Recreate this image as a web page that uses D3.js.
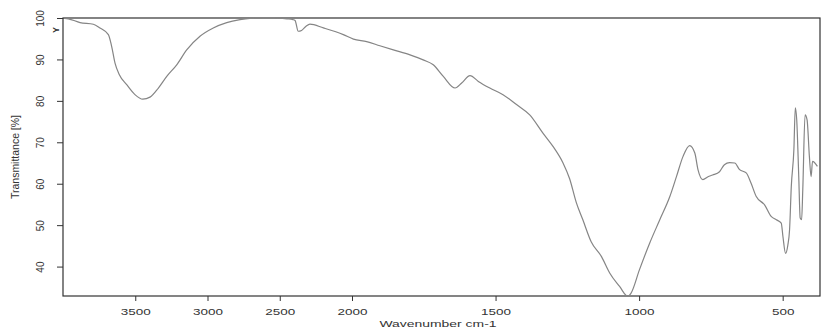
<!DOCTYPE html>
<html>
<head>
<meta charset="utf-8">
<script src="https://cdn.jsdelivr.net/npm/d3@7"></script>
<style>
  body { margin: 0; background: #fff; }
  text { font-family: "Liberation Sans", Arial, sans-serif; fill: #333; }
</style>
</head>
<body>
<div id="chart"></div>
<script>
// wavenumber (cm-1) and transmittance (%)
var wavenumber = [3990,3963,3882,3790,3744,3686,3663,3640,3610,3559,3502,3448,3398,3340,3282,3213,3144,3052,2960,2867,2775,2706,2620,2533,2450,2408,2394,2372,2349,2318,2291,2198,2060,1995,1949,1903,1856,1798,1752,1717,1682,1641,1618,1589,1560,1520,1474,1427,1381,1335,1300,1265,1242,1219,1196,1167,1131,1102,1068,1039,1028,999,963,928,893,870,847,824,806,795,778,760,744,720,703,685,667,650,627,610,592,563,540,522,505,499,490,482,476,470,461,456,451,444,439,434,430,422,415,407,401,396,379];
var transmittance = [99.9,99.8,98.9,98.5,97.6,96.0,93.1,89.1,86.3,83.9,81.5,80.4,80.9,83.1,85.9,88.7,92.3,95.6,97.6,98.9,99.6,99.9,100,100,99.8,99.6,99.4,96.8,97.0,98.0,98.5,97.6,96.0,94.9,94.3,93.3,92.3,91.1,89.9,88.7,85.9,83.1,84.3,86.1,84.7,83.1,81.5,79.1,76.6,72.2,69.0,65.0,61.2,55.5,51.3,46.0,42.4,38.4,35.2,32.8,33.6,39.2,45.7,51.3,56.9,61.7,66.6,69.2,67.4,63.4,61.0,61.7,62.1,62.9,64.6,65.1,65.0,63.4,62.6,60.1,56.9,54.9,52.1,51.3,50.5,47.2,43.2,45.2,48.9,59.3,68.2,78.3,75.4,61.7,51.7,51.3,58.5,76.6,75.4,66.6,61.7,65.4,64.2];
var xTicks = [3500,3000,2500,2000,1500,1000,500];
var yTicks = [40,50,60,70,80,90,100];

var width = 826, height = 329;
var plotLeft = 63, plotRight = 820, plotTop = 18, plotBottom = 296;

var svg = d3.select("#chart").append("svg")
    .attr("width", width)
    .attr("height", height);

// the x axis is compressed by half above 2000 cm-1
var x = d3.scaleLinear()
    .domain([4000, 2000, 370])
    .range([plotLeft, 352, plotRight]);

var y = d3.scaleLinear()
    .domain([32.9, 100])
    .range([plotBottom, plotTop]);

var data = wavenumber.map(function(w, i){ return {w: w, t: transmittance[i]}; });

svg.append("clipPath").attr("id", "plot")
  .append("rect")
    .attr("x", plotLeft).attr("y", plotTop - 1)
    .attr("width", plotRight - plotLeft).attr("height", plotBottom - plotTop + 1);

svg.append("rect")
    .attr("x", plotLeft).attr("y", plotTop)
    .attr("width", plotRight - plotLeft).attr("height", plotBottom - plotTop)
    .attr("fill", "none")
    .attr("stroke", "#333")
    .attr("stroke-width", 1.2);

var xAxis = svg.append("g")
    .attr("transform", "translate(0," + plotBottom + ")")
    .call(d3.axisBottom(x).tickValues(xTicks).tickSize(5).tickFormat(d3.format("d")));
xAxis.select(".domain").remove();
xAxis.selectAll("line").attr("stroke", "#333");
xAxis.selectAll("text")
    .attr("y", 19).attr("dy", 0)
    .attr("font-size", 9)
    .attr("textLength", function(d){ return String(d).length * 7.5; })
    .attr("lengthAdjust", "spacingAndGlyphs");

var yAxis = svg.append("g")
    .attr("transform", "translate(" + plotLeft + ",0)")
    .call(d3.axisLeft(y).tickValues(yTicks).tickSize(6));
yAxis.select(".domain").remove();
yAxis.selectAll("line").attr("stroke", "#333");
yAxis.selectAll("text")
    .attr("transform", "rotate(-90)")
    .attr("x", 0).attr("y", -19).attr("dy", 0)
    .attr("text-anchor", "middle")
    .attr("font-family", "'Liberation Sans Narrow', 'Arial Narrow', sans-serif")
    .attr("font-size", 10);

svg.append("text")
    .attr("transform", "translate(19," + (plotTop + plotBottom) / 2 + ") rotate(-90)")
    .attr("text-anchor", "middle")
    .attr("font-family", "'Liberation Sans Narrow', 'Arial Narrow', sans-serif")
    .attr("font-size", 10)
    .attr("textLength", 84)
    .attr("lengthAdjust", "spacingAndGlyphs")
    .text("Transmittance [%]");

svg.append("text")
    .attr("x", 438).attr("y", 327)
    .attr("text-anchor", "middle")
    .attr("font-size", 9)
    .attr("textLength", 117)
    .attr("lengthAdjust", "spacingAndGlyphs")
    .text("Wavenumber cm-1");

svg.append("text")
    .attr("transform", "translate(59,30) rotate(-90)")
    .attr("text-anchor", "middle")
    .attr("font-size", 9)
    .attr("font-weight", "bold")
    .text("Y");

var line = d3.line()
    .x(function(d){ return x(d.w); })
    .y(function(d){ return y(d.t); })
    .curve(d3.curveMonotoneX);

svg.append("path")
    .datum(data)
    .attr("clip-path", "url(#plot)")
    .attr("fill", "none")
    .attr("stroke", "#858585")
    .attr("stroke-width", 1.2)
    .attr("d", line);
</script>
</body>
</html>
